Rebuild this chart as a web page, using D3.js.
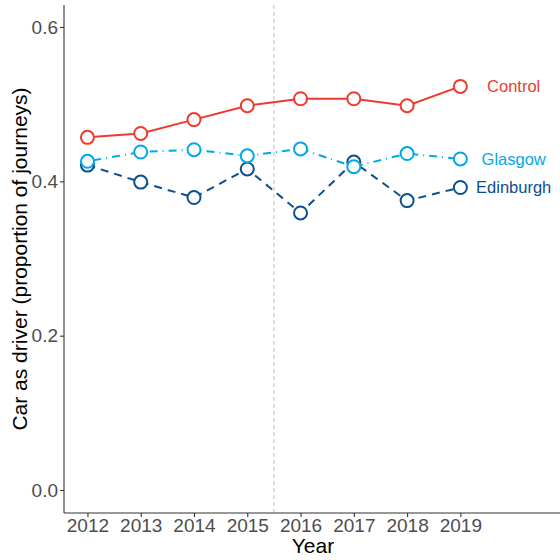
<!DOCTYPE html>
<html><head><meta charset="utf-8">
<script src="https://cdn.jsdelivr.net/npm/d3@7"></script>
<style>body{margin:0;background:#fff}svg{display:block}</style>
</head><body><svg id="c" width="560" height="560"></svg>
<script>
const years = [2012, 2013, 2014, 2015, 2016, 2017, 2018, 2019];
const control = [0.457, 0.462, 0.480, 0.498, 0.507, 0.507, 0.498, 0.523];
const glasgow = [0.426, 0.438, 0.441, 0.433, 0.442, 0.419, 0.436, 0.429];
const edinburgh = [0.421, 0.399, 0.379, 0.416, 0.359, 0.425, 0.375, 0.392];
const yTicks = [0.0, 0.2, 0.4, 0.6];
const seriesNames = ["Edinburgh", "Glasgow", "Control"];
const interventionYear = 2015.5;
const labelYear = 2020;

const colors = {Control: "#EE3A2E", Glasgow: "#00A8E8", Edinburgh: "#0B4F91"};
const dashes = {Control: null, Glasgow: "1,5,8,5", Edinburgh: "8,6"};
const dataMap = {Control: control, Glasgow: glasgow, Edinburgh: edinburgh};
const FONT = "Liberation Sans, Arial, sans-serif";

const svg = d3.select("#c");
const mLeft = 64, mRight = 560, mTop = 5, mBottom = 513;
const x = d3.scaleLinear().domain([2011.56, 2020.87]).range([mLeft, mRight]);
const y = d3.scaleLinear().domain([-0.0298, 0.6285]).range([mBottom, mTop]);

// dashed vertical
svg.append("line").attr("x1", x(interventionYear)).attr("x2", x(interventionYear))
  .attr("y1", mTop).attr("y2", mBottom)
  .attr("stroke", "#BDBDBD").attr("stroke-width", 1).attr("stroke-dasharray", "4,3");

// axes
const xAxis = svg.append("g").attr("transform", `translate(0,${mBottom})`)
  .call(d3.axisBottom(x).tickValues(years).tickFormat(d3.format("d")).tickSize(4).tickPadding(2).tickSizeOuter(0));
const yAxis = svg.append("g").attr("transform", `translate(${mLeft},0)`)
  .call(d3.axisLeft(y).tickValues(yTicks).tickFormat(d3.format(".1f")).tickSize(4).tickPadding(2).tickSizeOuter(0));
[xAxis, yAxis].forEach(g => {
  g.select(".domain").attr("stroke", "#333").attr("stroke-width", 1.1);
  g.selectAll(".tick line").attr("stroke", "#333").attr("stroke-width", 1.1);
  g.selectAll("text").attr("fill", "#4D4D4D").attr("font-family", FONT).attr("font-size", 19);
});
yAxis.select(".domain").attr("d", `M0,${mTop}V${mBottom}`);
xAxis.select(".domain").attr("d", `M${mLeft},0H${mRight}`);

// axis titles
svg.append("text").attr("x", (mLeft + mRight) / 2 + 1).attr("y", 553)
  .attr("text-anchor", "middle").attr("font-size", 21).attr("fill", "#000")
  .attr("font-family", FONT).text("Year");
svg.append("text").attr("transform", `translate(27,${(mTop + mBottom) / 2}) rotate(-90)`)
  .attr("text-anchor", "middle").attr("font-size", 21).attr("fill", "#000")
  .attr("font-family", FONT).text("Car as driver (proportion of journeys)");

// series
seriesNames.forEach(name => {
  const vals = dataMap[name];
  const pts = years.map((yr, i) => [yr, vals[i]]);
  const g = svg.append("g");
  g.append("path").datum(pts)
    .attr("d", d3.line().x(d => x(d[0])).y(d => y(d[1])))
    .attr("fill", "none").attr("stroke", colors[name]).attr("stroke-width", 2)
    .attr("stroke-dasharray", dashes[name]);
  g.selectAll("circle").data(pts).join("circle")
    .attr("cx", d => x(d[0])).attr("cy", d => y(d[1])).attr("r", 6.5)
    .attr("fill", "#fff").attr("stroke", colors[name]).attr("stroke-width", 2);
  g.append("text").attr("x", x(labelYear)).attr("y", y(vals[vals.length - 1]))
    .attr("dy", "0.35em").attr("text-anchor", "middle").attr("font-size", 16.5)
    .attr("fill", colors[name]).attr("font-family", FONT)
    .text(name);
});
</script></body></html>
